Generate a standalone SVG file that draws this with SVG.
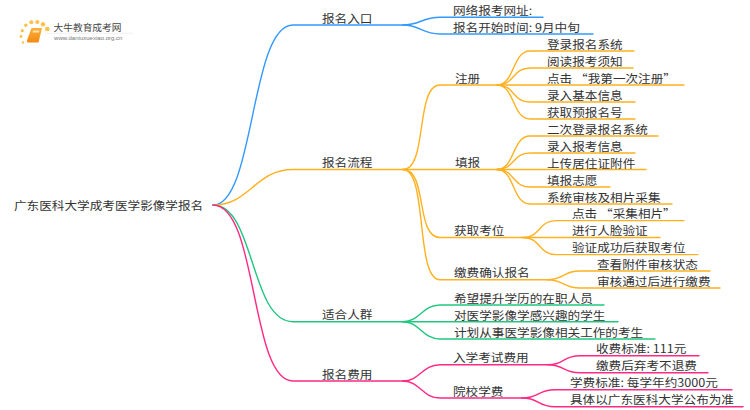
<svg xmlns="http://www.w3.org/2000/svg" width="750" height="410" viewBox="0 0 750 410">
<defs><linearGradient id="bk" x1="0" y1="0" x2="0" y2="1"><stop offset="0" stop-color="#fbb03b"/><stop offset="1" stop-color="#f38a12"/></linearGradient></defs>
<style>
text{font-family:"Noto Sans CJK SC","Noto Sans",sans-serif;font-size:11.7px;fill:#333;transform-box:fill-box;transform-origin:0 0;transform:scaleX(1.08)}
#connectors path{fill:none;stroke-width:1.4;stroke-linecap:round}
.b{stroke:#3399ff}.o{stroke:#ffb11f}.g{stroke:#20c77f}.p{stroke:#ff2a85}
</style>
<rect width="750" height="410" fill="#fff"/>
<g id="logo">
<g fill="#fbc24a"><circle cx="23" cy="42.500" r="1.200"/><circle cx="21" cy="36.500" r="1.400"/><circle cx="22.300" cy="30.700" r="1.600"/><circle cx="25.800" cy="25.300" r="1.700"/><circle cx="31.300" cy="22.300" r="2"/><circle cx="37.300" cy="22" r="2.100"/><circle cx="43" cy="24.300" r="2.200"/><circle cx="47.300" cy="29" r="2.300"/></g>
<path d="M31.500 28H42L38.500 42.500H28Q26.500 42.500 27 40.500Z" fill="url(#bk)"/><path d="M33 30.500h6.500l-.5 2h-6.500z" fill="#ffe3ad"/>
<path d="M45 33.300h88" stroke="#e6e6e6" stroke-width=".6"/>
<text x="53.500" y="31" style="font-size:9px;fill:#444">大牛教育成考网</text>
<text x="54" y="40.400" style="font-size:5.600px;fill:#777;font-family:'Liberation Sans',sans-serif">www.daniuxuexiao.org.cn</text>
</g>
<g id="connectors">
<path class="b" d="M213 205C255 205 250 25 293 25H403"/>
<path class="b" d="M403 25C420 25 422 17.300 440 17.300H543"/>
<path class="b" d="M403 25C420 25 422 34 440 34H593"/>
<path class="o" d="M213 205C250 205 255 169.500 293 169.500H403"/>
<path class="o" d="M403 169.500C428 169.500 415 85 440 85H497"/>
<path class="o" d="M403 169.500H497"/>
<path class="o" d="M403 169.500C428 169.500 415 237.500 440 237.500H523"/>
<path class="o" d="M403 169.500C428 169.500 415 279.700 440 279.700H547"/>
<path class="o" d="M497 85C515 85 512 51 530 51H634"/>
<path class="o" d="M497 85C515 85 512 68 530 68H633"/>
<path class="o" d="M497 85H684"/>
<path class="o" d="M497 85C515 85 512 102 530 102H635"/>
<path class="o" d="M497 85C515 85 512 119 530 119H635"/>
<path class="o" d="M497 169.500C515 169.500 512 136 530 136H658"/>
<path class="o" d="M497 169.500C515 169.500 512 153 530 153H635"/>
<path class="o" d="M497 169.500H646"/>
<path class="o" d="M497 169.500C515 169.500 512 187 530 187H610"/>
<path class="o" d="M497 169.500C515 169.500 512 204 530 204H672"/>
<path class="o" d="M523 237.500C541 237.500 538 220.600 556 220.600H684"/>
<path class="o" d="M523 237.500H660"/>
<path class="o" d="M523 237.500C541 237.500 538 254.600 556 254.600H698"/>
<path class="o" d="M547 279.700C565 279.700 562 271 580 271H710"/>
<path class="o" d="M547 279.700C565 279.700 562 288 580 288H720"/>
<path class="g" d="M213 205C255 205 250 321.700 293 321.700H403"/>
<path class="g" d="M403 321.700C420 321.700 422 305 440 305H604"/>
<path class="g" d="M403 321.700H618"/>
<path class="g" d="M403 321.700C420 321.700 422 339 440 339H655"/>
<path class="p" d="M213 205C258 205 250 381 293 381H403"/>
<path class="p" d="M403 381C420 381 422 364.700 440 364.700H548"/>
<path class="p" d="M403 381C420 381 422 398 440 398H522"/>
<path class="p" d="M548 364.700C565 364.700 562 355.700 580 355.700H699"/>
<path class="p" d="M548 364.700C565 364.700 562 372.700 580 372.700H708"/>
<path class="p" d="M522 398C540 398 537 389.700 555 389.700H732"/>
<path class="p" d="M522 398C540 398 537 406.700 555 406.700H743"/>
</g>
<g id="root"><text x="14" y="209.700">广东医科大学成考医学影像学报名</text></g>
<g id="n1"><text x="322" y="23.400">报名入口</text></g>
<g id="n1-1"><text x="453" y="15">网络报考网址:</text></g>
<g id="n1-2"><text x="453" y="32.400">报名开始时间: 9月中旬</text></g>
<g id="n2"><text x="322" y="167.400">报名流程</text></g>
<g id="n2-1"><text x="455" y="83.400">注册</text></g>
<g id="n2-1-1"><text x="547" y="49.400">登录报名系统</text></g>
<g id="n2-1-2"><text x="547" y="66.400">阅读报考须知</text></g>
<g id="n2-1-3"><text x="547" y="83.400">点击 “我第一次注册”</text></g>
<g id="n2-1-4"><text x="547" y="100.400">录入基本信息</text></g>
<g id="n2-1-5"><text x="547" y="117.400">获取预报名号</text></g>
<g id="n2-2"><text x="455" y="167.400">填报</text></g>
<g id="n2-2-1"><text x="547" y="134.400">二次登录报名系统</text></g>
<g id="n2-2-2"><text x="547" y="151.400">录入报考信息</text></g>
<g id="n2-2-3"><text x="547" y="168.400">上传居住证附件</text></g>
<g id="n2-2-4"><text x="547" y="185.400">填报志愿</text></g>
<g id="n2-2-5"><text x="547" y="202.400">系统审核及相片采集</text></g>
<g id="n2-3"><text x="454" y="235.400">获取考位</text></g>
<g id="n2-3-1"><text x="572" y="218.400">点击 “采集相片”</text></g>
<g id="n2-3-2"><text x="572" y="235.400">进行人脸验证</text></g>
<g id="n2-3-3"><text x="572" y="252.400">验证成功后获取考位</text></g>
<g id="n2-4"><text x="454" y="277.400">缴费确认报名</text></g>
<g id="n2-4-1"><text x="597" y="269.400">查看附件审核状态</text></g>
<g id="n2-4-2"><text x="597" y="286.400">审核通过后进行缴费</text></g>
<g id="n3"><text x="322" y="319.400">适合人群</text></g>
<g id="n3-1"><text x="454" y="303.400">希望提升学历的在职人员</text></g>
<g id="n3-2"><text x="454" y="320.400">对医学影像学感兴趣的学生</text></g>
<g id="n3-3"><text x="454" y="337.400">计划从事医学影像相关工作的考生</text></g>
<g id="n4"><text x="322" y="379.400">报名费用</text></g>
<g id="n4-1"><text x="453" y="362.400">入学考试费用</text></g>
<g id="n4-1-1"><text x="596" y="353.400">收费标准: 111元</text></g>
<g id="n4-1-2"><text x="596" y="370.400">缴费后弃考不退费</text></g>
<g id="n4-2"><text x="453" y="396.400">院校学费</text></g>
<g id="n4-2-1"><text x="570" y="387.400">学费标准: 每学年约3000元</text></g>
<g id="n4-2-2"><text x="570" y="404.400">具体以广东医科大学公布为准</text></g>
</svg>
